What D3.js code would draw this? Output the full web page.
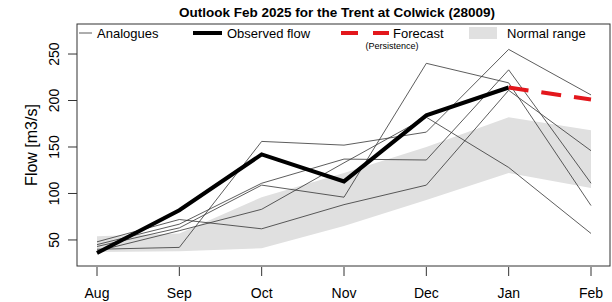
<!DOCTYPE html>
<html>

<head>
  <meta charset="utf8">
  <script src="https://d3js.org/d3.v7.min.js"></script>
  <style>
    body { margin: 0; background: white; }
    text { font-family: "Liberation Sans", Arial, sans-serif; fill: black; }
    .title { font-weight: bold; font-size: 13.5px; text-anchor: middle; }
    .tick-label { font-size: 14px; }
    .legend { font-size: 13px; }
  </style>
</head>

<body>
  <svg id="chart" width="612" height="302"></svg>
  <script>
    var months = ['Aug', 'Sep', 'Oct', 'Nov', 'Dec', 'Jan', 'Feb'];
    var yTicks = [50, 100, 150, 200, 250];

    // normal range band (lower / upper), Aug..Feb
    var normalLow = [37, 38, 41, 65, 93, 122, 106];
    var normalHigh = [54, 57, 96, 122, 150, 182, 168];

    // observed flow Aug..Jan
    var observed = [36, 82, 142, 113, 184, 214];

    // persistence forecast Jan..Feb
    var forecast = [214, 201];

    // analogue years Aug..Feb
    var analogueA = [40, 42, 156, 152, 166, 255, 206];
    var analogueB = [45, 67, 111, 137, 136, 233, 111];
    var analogueC = [48, 72, 62, 88, 109, 211, 146];
    var analogueD = [43, 63, 109, 96, 240, 219, 87];
    var analogueE = [38, 60, 83, 133, 182, 128, 57];
    var analogues = [analogueA, analogueB, analogueC, analogueD, analogueE];

    var chart = d3.select('#chart');
    var plotLeft = 77, plotRight = 610, plotTop = 24, plotBottom = 266;

    var x = d3.scaleLinear().domain([0, months.length - 1]).range([97, 591]);
    var y = d3.scaleLinear().domain([22, 282.3]).range([plotBottom, plotTop]);

    // band
    var area = d3.area()
      .x((d, i) => x(i))
      .y0((d, i) => y(normalLow[i]))
      .y1((d) => y(d));

    chart.append('path')
      .attr('d', area(normalHigh))
      .attr('fill', '#e0e0e0');

    var line = d3.line()
      .x((d, i) => x(i))
      .y((d) => y(d));

    chart.selectAll('.analogue')
      .data(analogues)
      .enter()
      .append('path')
      .attr('class', 'analogue')
      .attr('d', line)
      .attr('fill', 'none')
      .attr('stroke', '#333')
      .attr('stroke-width', 0.8);

    chart.append('path')
      .attr('d', line(observed))
      .attr('fill', 'none')
      .attr('stroke', 'black')
      .attr('stroke-width', 4);

    var fcLine = d3.line()
      .x((d, i) => x(i + observed.length - 1))
      .y((d) => y(d));

    chart.append('path')
      .attr('d', fcLine(forecast))
      .attr('fill', 'none')
      .attr('stroke', '#e3171c')
      .attr('stroke-width', 4)
      .attr('stroke-dasharray', '20,13');

    // box
    chart.append('rect')
      .attr('x', plotLeft).attr('y', plotTop)
      .attr('width', plotRight - plotLeft).attr('height', plotBottom - plotTop)
      .attr('fill', 'none')
      .attr('stroke', '#333')
      .attr('stroke-width', 1);

    // x axis
    var xAxis = chart.append('g').attr('transform', 'translate(0,' + (plotBottom + 1) + ')');
    xAxis.selectAll('line')
      .data(months)
      .enter()
      .append('line')
      .attr('x1', (d, i) => x(i)).attr('x2', (d, i) => x(i))
      .attr('y1', 0).attr('y2', 9)
      .attr('stroke', '#333');
    xAxis.selectAll('text')
      .data(months)
      .enter()
      .append('text')
      .attr('class', 'tick-label')
      .attr('x', (d, i) => x(i))
      .attr('y', 31)
      .attr('text-anchor', 'middle')
      .text((d) => d);

    // y axis
    var yAxis = chart.append('g');
    yAxis.selectAll('line')
      .data(yTicks)
      .enter()
      .append('line')
      .attr('x1', plotLeft - 9).attr('x2', plotLeft)
      .attr('y1', (d) => y(d)).attr('y2', (d) => y(d))
      .attr('stroke', '#333');
    yAxis.selectAll('text')
      .data(yTicks)
      .enter()
      .append('text')
      .attr('class', 'tick-label')
      .attr('text-anchor', 'middle')
      .attr('transform', (d) => 'translate(59,' + y(d) + ') rotate(-90)')
      .text((d) => d);

    chart.append('text')
      .attr('text-anchor', 'middle')
      .attr('font-size', '16px')
      .attr('transform', 'translate(37,145) rotate(-90)')
      .text('Flow [m3/s]');

    chart.append('text')
      .attr('class', 'title')
      .attr('x', 337)
      .attr('y', 17)
      .text('Outlook Feb 2025 for the Trent at Colwick (28009)');

    // legend
    var ly = 33;
    var legend = chart.append('g');
    legend.append('line')
      .attr('x1', 79).attr('x2', 92).attr('y1', ly).attr('y2', ly)
      .attr('stroke', '#333').attr('stroke-width', 0.8);
    legend.append('text').attr('class', 'legend').attr('x', 97).attr('y', ly + 4.5).text('Analogues');

    legend.append('line')
      .attr('x1', 193).attr('x2', 222).attr('y1', ly).attr('y2', ly)
      .attr('stroke', 'black').attr('stroke-width', 4);
    legend.append('text').attr('class', 'legend').attr('x', 227).attr('y', ly + 4.5).text('Observed flow');

    legend.append('line')
      .attr('x1', 341).attr('x2', 389).attr('y1', ly).attr('y2', ly)
      .attr('stroke', '#e3171c').attr('stroke-width', 4)
      .attr('stroke-dasharray', '17,15');
    legend.append('text').attr('class', 'legend').attr('x', 393).attr('y', ly + 4.5).text('Forecast');
    legend.append('text')
      .attr('x', 392).attr('y', 49)
      .attr('text-anchor', 'middle')
      .attr('font-size', '9px')
      .text('(Persistence)');

    legend.append('rect')
      .attr('x', 469).attr('y', 27).attr('width', 28).attr('height', 12)
      .attr('fill', '#e0e0e0');
    legend.append('text').attr('class', 'legend').attr('x', 507).attr('y', ly + 4.5).text('Normal range');
  </script>
</body>

</html>
